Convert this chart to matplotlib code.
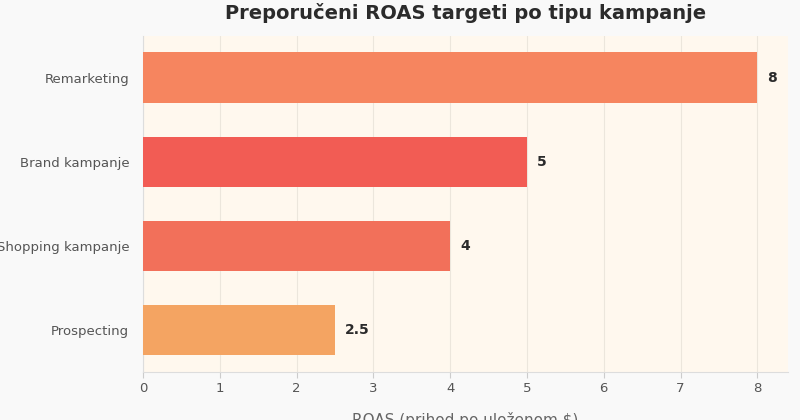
import matplotlib
matplotlib.use("Agg")
import matplotlib.pyplot as plt

categories = ["Prospecting", "Shopping kampanje", "Brand kampanje", "Remarketing"]
values = [2.5, 4, 5, 8]
labels = ["2.5", "4", "5", "8"]
colors = ["#f4a462", "#f2705a", "#f25c54", "#f6855f"]

fig = plt.figure(figsize=(8, 4.2), dpi=100, facecolor="#f9f9f9")
ax = fig.add_axes([0.179, 0.115, 0.806, 0.80])
ax.set_facecolor("#fff8ee")
ax.barh(categories, values, color=colors, height=0.6, zorder=3)
for i, (v, l) in enumerate(zip(values, labels)):
    ax.text(v + 0.13, i, l, va="center", ha="left", fontsize=10, fontweight="bold", color="#2b2b2b")
ax.set_xlim(0, 8.4)
ax.set_ylim(-0.5, 3.5)
ax.set_xticks(range(9))
ax.grid(axis="x", color="#ece6dc", linewidth=0.8, zorder=0)
for s in ["top", "right"]:
    ax.spines[s].set_visible(False)
for s in ["left", "bottom"]:
    ax.spines[s].set_color("#dddddd")
ax.tick_params(colors="#555555", labelsize=9.5, length=0)
ax.tick_params(axis="y", pad=10)
ax.tick_params(axis="x", length=4, color="#cccccc")
ax.set_xlabel("ROAS (prihod po uloženom $)", fontsize=11, color="#666666", labelpad=12)
ax.set_title("Preporučeni ROAS targeti po tipu kampanje", fontsize=14, fontweight="bold", color="#2b2b2b", pad=12)
fig.savefig("out.png", dpi=100, facecolor=fig.get_facecolor())
